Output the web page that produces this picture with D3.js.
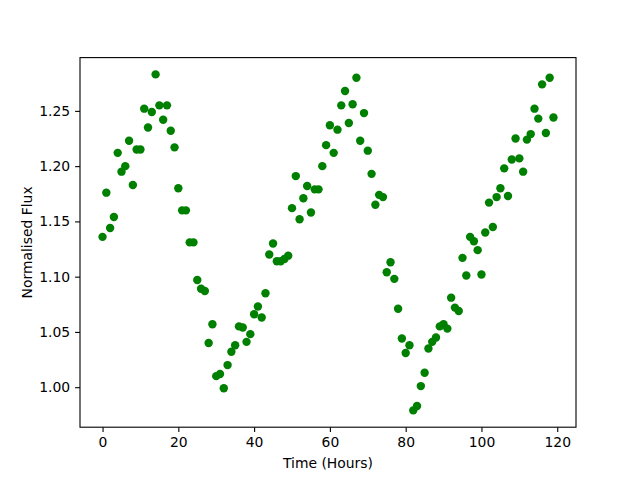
<!DOCTYPE html>
<html lang="en">
<head>
<meta charset="UTF-8">
<title>Normalised Flux</title>
<style>
  body { margin: 0; background: #fff; }
  text { font-family: "DejaVu Sans", sans-serif; fill: #000; }
</style>
</head>
<body>
<div id="chart"></div>
<script src="https://d3js.org/d3.v7.min.js"></script>
<script>
// Observations, one per hour
const hours = d3.range(0, 120);
const flux = [
  1.136, 1.176, 1.144, 1.154, 1.212, 1.195, 1.200, 1.223, 1.183, 1.215,
  1.215, 1.252, 1.235, 1.249, 1.283, 1.255, 1.242, 1.255, 1.232, 1.217,
  1.180, 1.160, 1.160, 1.131, 1.131, 1.097, 1.089, 1.087, 1.040, 1.057,
  1.010, 1.012, 0.999, 1.020, 1.032, 1.038, 1.055, 1.054, 1.041, 1.048,
  1.066, 1.073, 1.063, 1.085, 1.120, 1.130, 1.114, 1.114, 1.116, 1.119,
  1.162, 1.191, 1.152, 1.171, 1.182, 1.158, 1.179, 1.179, 1.200, 1.219,
  1.237, 1.212, 1.233, 1.255, 1.268, 1.239, 1.256, 1.280, 1.223, 1.248,
  1.214, 1.193, 1.165, 1.174, 1.172, 1.104, 1.113, 1.098, 1.071, 1.044,
  1.031, 1.038, 0.979, 0.983, 1.001, 1.013, 1.035, 1.041, 1.045, 1.055,
  1.057, 1.053, 1.081, 1.072, 1.069, 1.117, 1.101, 1.136, 1.132, 1.124,
  1.102, 1.140, 1.167, 1.145, 1.172, 1.180, 1.198, 1.173, 1.206, 1.225,
  1.207, 1.195, 1.224, 1.229, 1.252, 1.243, 1.274, 1.230, 1.280, 1.244
];
const xTicks = [0, 20, 40, 60, 80, 100, 120];
const yTicks = [1.00, 1.05, 1.10, 1.15, 1.20, 1.25];

const width = 640, height = 480;
const margin = {top: 57.6, right: 64, bottom: 52.8, left: 80};

const svg = d3.select("#chart").append("svg")
    .attr("width", width)
    .attr("height", height);

// matplotlib style 5% padding around the data
const xExt = d3.extent(hours), yExt = d3.extent(flux);
const xPad = (xExt[1] - xExt[0]) * 0.05, yPad = (yExt[1] - yExt[0]) * 0.05;

const x = d3.scaleLinear()
    .domain([xExt[0] - xPad, xExt[1] + xPad])
    .range([margin.left, width - margin.right]);
const y = d3.scaleLinear()
    .domain([yExt[0] - yPad, yExt[1] + yPad])
    .range([height - margin.bottom, margin.top]);

// points
svg.append("g")
  .selectAll("circle")
  .data(hours)
  .join("circle")
    .attr("cx", (d, i) => x(d))
    .attr("cy", (d, i) => y(flux[i]))
    .attr("r", 4.2)
    .attr("fill", "#008000");

// axes
const xAxis = svg.append("g")
    .attr("transform", `translate(0,${height - margin.bottom})`)
    .call(d3.axisBottom(x).tickValues(xTicks).tickSize(4.9).tickPadding(4.9));
const yAxis = svg.append("g")
    .attr("transform", `translate(${margin.left},0)`)
    .call(d3.axisLeft(y).tickValues(yTicks).tickFormat(d3.format(".2f")).tickSize(4.9).tickPadding(4.9));

[xAxis, yAxis].forEach(g => {
  g.select(".domain").remove();
  g.selectAll("line").attr("stroke", "#000").attr("stroke-width", 1.1);
  g.selectAll("text").style("font-size", "13.9px").attr("fill", "#000");
});

// frame
svg.append("rect")
    .attr("x", margin.left)
    .attr("y", margin.top)
    .attr("width", width - margin.left - margin.right)
    .attr("height", height - margin.top - margin.bottom)
    .attr("fill", "none")
    .attr("stroke", "#000")
    .attr("stroke-width", 1.1);

// labels
svg.append("text")
    .attr("x", (margin.left + width - margin.right) / 2)
    .attr("y", 468)
    .attr("text-anchor", "middle")
    .style("font-size", "13.9px")
    .text("Time (Hours)");

svg.append("text")
    .attr("transform", `translate(32,${(margin.top + height - margin.bottom) / 2}) rotate(-90)`)
    .attr("text-anchor", "middle")
    .style("font-size", "13.9px")
    .text("Normalised Flux");
</script>
</body>
</html>
